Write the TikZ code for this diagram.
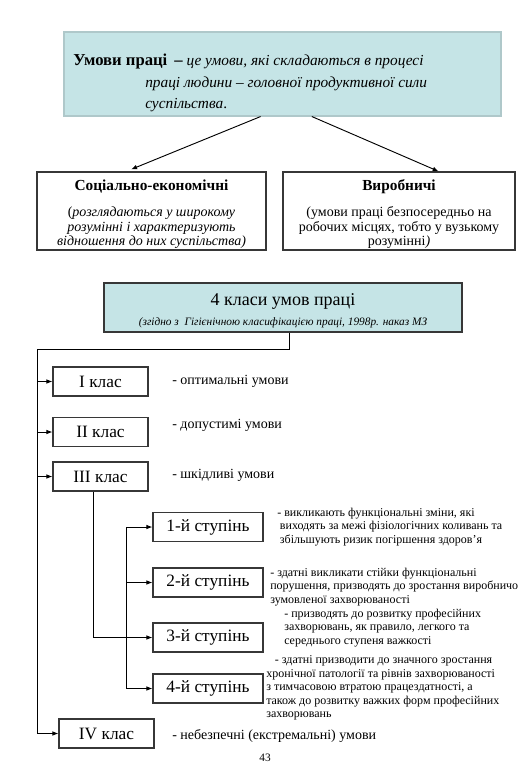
\documentclass[tikz,border=0pt]{standalone}
\usepackage{fontspec}
\setmainfont{Liberation Serif}
\usetikzlibrary{positioning, calc, arrows.meta}

\definecolor{boxcyan}{RGB}{197,228,230}
\definecolor{boxline}{RGB}{55,55,55}
\definecolor{tealedge}{RGB}{175,200,202}

\tikzset{
    infobox/.style={draw=boxline, line width=0.9pt, inner sep=0pt, align=center},
    classbox/.style={infobox, minimum width=71.25pt, minimum height=21.75pt, font=\fontsize{13}{15}\selectfont},
    stagebox/.style={infobox, minimum width=82.5pt, minimum height=21.75pt, font=\fontsize{13}{15}\selectfont},
    note/.style={anchor=west, inner sep=0pt, font=\fontsize{10.5}{12}\selectfont},
    smallnote/.style={anchor=west, inner sep=0pt, align=left, font=\fontsize{9}{10.1}\selectfont},
    arr/.style={-{Latex[length=4.5pt,width=3.5pt]}, line width=0.7pt},
    link/.style={line width=0.7pt},
}

\begin{document}
\begin{tikzpicture}[x=0.75pt,y=0.75pt,yscale=-1,xscale=1]
    \useasboundingbox (0,0) rectangle (532,768);

    % definition box
    \node [fill=boxcyan, draw=tealedge, line width=0.8pt, minimum width=327.75pt, minimum height=63pt] (def) at (282.5,74) {};
    \node [anchor=west, inner sep=0pt, align=left, font=\fontsize{11.5}{16}\selectfont] (deftext) at (73,83)
        {{\fontsize{12.5}{16}\selectfont\bfseries Умови праці \,–} \textit{це умови, які складаються в процесі}\\
         \hspace*{54pt}\textit{праці людини – головної продуктивної сили}\\
         \hspace*{54pt}\textit{суспільства}.};

    % two kinds of conditions
    \node [infobox, minimum width=171.75pt, minimum height=58.5pt, font=\fontsize{10.5}{10.9}\selectfont] (social) at (151.5,211)
        {{\fontsize{11.5}{13}\selectfont\bfseries\rule{0pt}{13pt}Соціально-економічні}\\[9pt]
         (\textit{розглядаються у широкому}\\
         \textit{розумінні і характеризують}\\
         \textit{відношення до них суспільства)}};
    \node [infobox, minimum width=174pt, minimum height=58.5pt, font=\fontsize{10.5}{10.9}\selectfont] (prod) at (399,211)
        {{\fontsize{11.5}{13}\selectfont\bfseries\rule{0pt}{13pt}Виробничі}\\[9pt]
         (умови праці безпосередньо на\\
         робочих місцях, тобто у вузькому\\
         розумінні\textit{)}};

    \draw [arr, shorten >=4pt] ($(def.south west)!0.45!(def.south east)$) -- ($(social.north west)!0.39!(social.north east)$);
    \draw [arr] ($(def.south west)!0.567!(def.south east)$) -- ($(prod.north west)!0.67!(prod.north east)$);

    % classes
    \node [infobox, fill=boxcyan, minimum width=268.5pt, minimum height=36.75pt] (classes) at (283,307.5)
        {{\fontsize{13.5}{15}\selectfont\rule{0pt}{14pt}4 класи умов праці}\\[3pt]
         {\fontsize{8.5}{10}\selectfont\itshape (згідно з \ Гігієнічною класифікацією праці, 1998р. наказ МЗ}};

    \node [classbox] (c1) at (100.5,381.5) {I клас};
    \node [classbox] (c2) at (100.5,432) {II клас};
    \node [classbox] (c3) at (100.5,476.5) {III клас};
    \node [classbox] (c4) at (106.5,733.5) {IV клас};

    \node [note] (n1) at (172,381) {- оптимальні умови};
    \node [note] (n2) at (172,425) {- допустимі умови};
    \node [note] (n3) at (172,475) {- шкідливі умови};
    \node [note] (n4) at (172,736) {- небезпечні (екстремальні) умови};

    \coordinate (trunk) at (37,349);
    \draw [link] ($(classes.south)+(6,0)$) |- (trunk);
    \draw [arr] (trunk) |- (c4.west);
    \foreach \n in {c1,c2,c3}
        \draw [arr] (trunk |- \n.west) -- (\n.west);

    % degrees of class III
    \node [stagebox] (s1) at (208,527) {1-й ступінь};
    \node [stagebox] (s2) at (208,582.5) {2-й ступінь};
    \node [stagebox] (s3) at (208,637.5) {3-й ступінь};
    \node [stagebox] (s4) at (208,688.5) {4-й ступінь};

    \node [smallnote] (d1) at (277,527)
        {- викликають функціональні зміни, які\\
         \hspace*{2pt}виходять за межі фізіологічних коливань та\\
         \hspace*{2pt}збільшують ризик погіршення здоров'я};
    \node [smallnote] (d2) at (270,587)
        {- здатні викликати стійки функціональні\\
         порушення, призводять до зростання виробничо\\
         зумовленої захворюваності};
    \node [smallnote] (d3) at (284,628)
        {- призводять до розвитку професійних\\
         захворювань, як правило, легкого та\\
         середнього ступеня важкості};
    \node [smallnote] (d4) at (266,688)
        {\hspace*{6.5pt}- здатні призводити до значного зростання\\
         хронічної патології та рівнів захворюваності\\
         з тимчасовою втратою працездатності, а\\
         також до розвитку важких форм професійних\\
         захворювань};

    \coordinate (fork) at (126,529);
    \draw [link] (fork |- s1.west) -- (fork |- s4.west);
    \foreach \n in {s1,s2,s4}
        \draw [arr] (fork |- \n.west) -- (\n.west);
    \draw [arr] ($(c3.south)+(-7,0)$) |- (s3.west);

    % page number
    \node [font=\fontsize{8.5}{10}\selectfont] (page) at (265,758) {43};

\end{tikzpicture}
\end{document}
